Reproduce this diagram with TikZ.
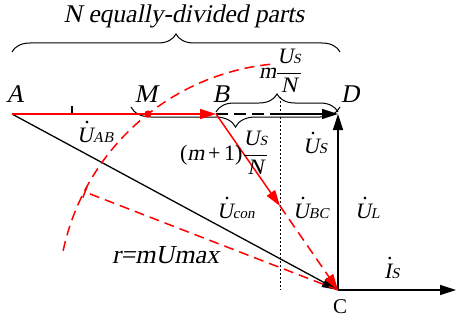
\documentclass[tikz,border=0pt]{standalone}
\usepackage{fontspec}
\setmainfont{Liberation Serif}
\newfontfamily\itf{Liberation Serif}[FakeSlant=0.2]
\usetikzlibrary{arrows.meta,decorations.pathreplacing,calc}
\newcommand\vd[2]{\leavevmode\setbox0\hbox{\itf #1}%
  \rlap{\hbox to\wd0{\hss\kern.2em\raisebox{\dimexpr\ht0+4pt\relax}{\rmfamily.}\hss}}\box0{\fontsize{15}{15}\selectfont\itf #2}}
\newcommand\usn{\displaystyle\frac{\mbox{\itf U{\fontsize{14}{14}\selectfont S}}}{\mbox{\itf N}}}
\begin{document}
\begin{tikzpicture}[x=1pt,y=-1pt,
  every node/.style={inner sep=0pt,outer sep=0pt},
  lab/.style={font=\fontsize{22}{26}\selectfont\itf,anchor=base west},
  big/.style={font=\fontsize{25.5}{30}\selectfont\itf,anchor=base},
  ln/.style={line width=1.3pt},
  rl/.style={line width=1.5pt,red},
  tip/.style={-{Triangle[length=16pt,width=10pt]}},
  rdash/.style={dash pattern=on 10pt off 6pt},
  brc/.style={decorate,line width=1pt,decoration={brace,amplitude=#1}},
]
\useasboundingbox (0,0) rectangle (457,321);
\coordinate (A) at (12,114);
\coordinate (T1) at (72,114);
\coordinate (T1u) at (72,106);
\coordinate (M) at (148,114);
\coordinate (B) at (216,114);
\coordinate (P) at (280,114);
\coordinate (D) at (338,114);
\coordinate (C) at (338,290);
\coordinate (E) at (456,290);
\coordinate (Q) at (280,206);
\coordinate (Pt) at (280,97);
\coordinate (Pb) at (280,290);
\coordinate (R) at (85,192);
\coordinate (S0) at (270.2,64.3);
% braces
\draw[brc=18pt] (12,52) -- (340,52);
\draw[brc=18pt] (216,112) -- (338,112);
\draw[brc=20pt,decoration={mirror}] (131,107) -- (340,107);
% black lines
\draw[ln] (T1u) -- (T1);
\draw[ln,tip] (A) -- (C);
\draw[ln,dash pattern=on 12pt off 6pt] (B) -- (P);
\draw[ln,tip] (P) -- (D);
\draw[line width=1pt,dash pattern=on 2pt off 2pt] (Pt) -- (Pb);
\draw[ln,tip] (C) -- (D);
\draw[ln,tip] (C) -- (E);
% red
\draw[rl,rdash] (S0) arc[start angle=-96,end angle=-168,radius=237];
\draw[rl,rdash] (C) -- (R);
\draw[rl] ($(R)!6pt!90:(C)$) -- ($(R)!6pt!-90:(C)$);
\draw[rl,tip] (A) -- (B);
\fill[red] (M) circle (3.6pt);
\draw[rl,tip] (B) -- (Q);
\draw[rl,rdash,tip] (Q) -- (C);
% labels
\node[big] (tN) at (184,23) {N equally-divided parts};
\node[big] (tA) at (15,102) {A};
\node[big] (tM) at (146,102) {M};
\node[big] (tB) at (221,102) {B};
\node[big] (tD) at (350,102) {D};
\node[lab] (tUAB) at (77,142) {\vd{U}{AB}};
\node[lab] (tUS) at (303,153) {\vd{U}{S}};
\node[lab] (tUcon) at (217,218) {\vd{U}{con}};
\node[lab] (tUBC) at (293,218) {\vd{U}{BC}};
\node[lab] (tUL) at (355,218) {\vd{U}{L}};
\node[lab] (tIS) at (384,278) {\vd{I}{S}};
\node[lab,font=\fontsize{26}{30}\selectfont\itf] (tr) at (112,263) {r=mUmax};
\node[anchor=base,font=\fontsize{21}{24}\selectfont] (tC) at (340,313) {C};
\node[lab,font=\fontsize{22}{26}\selectfont] (tmf) at (259,78) {$\mbox{\itf m}\usn$};
\node[lab,font=\fontsize{22}{26}\selectfont] (tm1) at (180,160) {$\mbox{(\itf m\rmfamily\,+\,1)}\usn$};
\end{tikzpicture}
\end{document}
